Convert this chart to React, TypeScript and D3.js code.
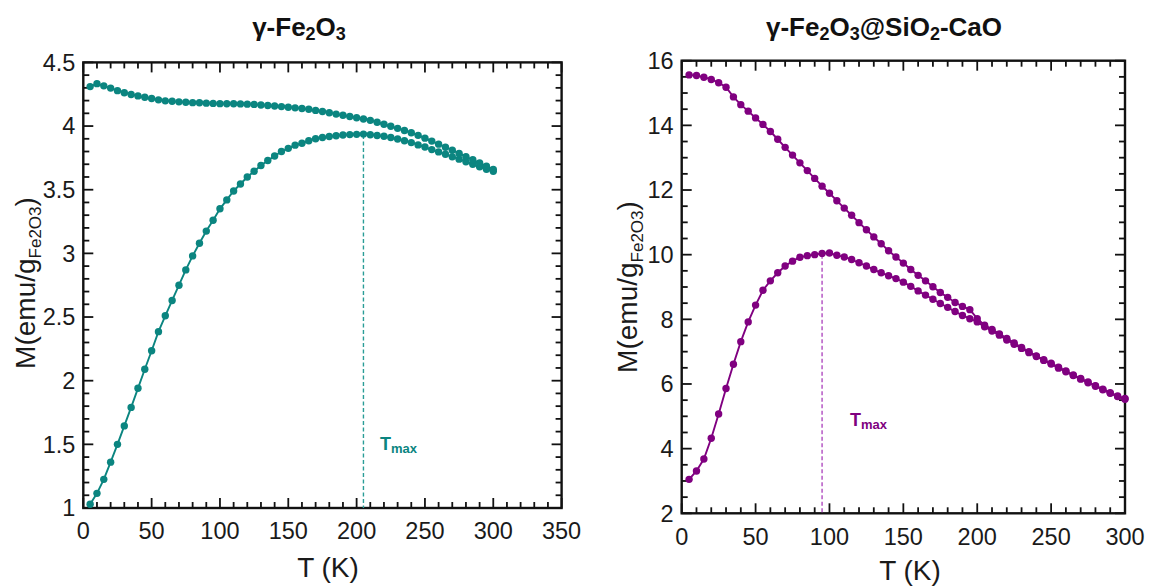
import React from 'react';
import * as d3 from 'd3';

// Temperature grid (K)
const TEMPS = [5, 10, 15, 20, 25, 30, 35, 40, 45, 50, 55, 60, 65, 70, 75, 80, 85, 90, 95, 100,
  105, 110, 115, 120, 125, 130, 135, 140, 145, 150, 155, 160, 165, 170, 175, 180, 185, 190, 195, 200,
  205, 210, 215, 220, 225, 230, 235, 240, 245, 250, 255, 260, 265, 270, 275, 280, 285, 290, 295, 300];

// γ-Fe2O3 : ZFC and FC magnetization (emu/g)
const FE_ZFC = [1.03, 1.115, 1.225, 1.36, 1.5, 1.645, 1.79, 1.94, 2.09, 2.235, 2.385, 2.51, 2.63, 2.75, 2.87, 2.98, 3.08, 3.175, 3.26, 3.35,
  3.42, 3.49, 3.545, 3.6, 3.645, 3.69, 3.73, 3.765, 3.8, 3.825, 3.85, 3.865, 3.885, 3.9, 3.91, 3.918, 3.924, 3.93, 3.933, 3.935,
  3.937, 3.932, 3.926, 3.92, 3.91, 3.898, 3.885, 3.87, 3.852, 3.835, 3.815, 3.797, 3.778, 3.758, 3.74, 3.72, 3.7, 3.68, 3.66, 3.645];
const FE_FC = [4.31, 4.333, 4.316, 4.298, 4.278, 4.262, 4.248, 4.237, 4.226, 4.216, 4.206, 4.198, 4.195, 4.19, 4.187, 4.184, 4.183, 4.18, 4.178, 4.176,
  4.175, 4.175, 4.174, 4.172, 4.17, 4.165, 4.161, 4.158, 4.153, 4.148, 4.143, 4.138, 4.132, 4.123, 4.114, 4.104, 4.094, 4.085, 4.075, 4.065,
  4.056, 4.045, 4.03, 4.014, 3.998, 3.982, 3.965, 3.947, 3.927, 3.905, 3.882, 3.858, 3.834, 3.81, 3.785, 3.76, 3.735, 3.71, 3.685, 3.66];

// γ-Fe2O3@SiO2-CaO : ZFC and FC magnetization
const SI_ZFC = [3.05, 3.31, 3.68, 4.32, 5.07, 5.86, 6.61, 7.31, 7.92, 8.44, 8.9, 9.19, 9.44, 9.65, 9.8, 9.92, 9.97, 10.0, 10.04, 10.05,
  9.98, 9.93, 9.85, 9.75, 9.65, 9.54, 9.44, 9.35, 9.26, 9.15, 9.02, 8.88, 8.75, 8.62, 8.49, 8.37, 8.24, 8.12, 8.02, 7.92,
  7.77, 7.64, 7.51, 7.36, 7.23, 7.1, 6.97, 6.85, 6.73, 6.62, 6.49, 6.38, 6.26, 6.15, 6.04, 5.93, 5.82, 5.71, 5.61, 5.53];
const SI_FC = [15.56, 15.54, 15.49, 15.42, 15.32, 15.18, 14.88, 14.64, 14.44, 14.23, 14.03, 13.81, 13.57, 13.32, 13.08, 12.84, 12.6, 12.36, 12.12, 11.9,
  11.67, 11.44, 11.22, 10.99, 10.77, 10.55, 10.34, 10.12, 9.93, 9.74, 9.54, 9.36, 9.19, 9.01, 8.83, 8.68, 8.52, 8.4, 8.3, 8.02,
  7.82, 7.69, 7.55, 7.41, 7.27, 7.13, 7.0, 6.87, 6.75, 6.64, 6.52, 6.4, 6.28, 6.17, 6.06, 5.95, 5.84, 5.73, 5.63, 5.55];

const FE_TMAX = 205;
const FE_TMAX_M = 3.93;
const SI_TMAX = 95;
const SI_TMAX_M = 10.0;

const LEFT_X_TICKS = [0, 50, 100, 150, 200, 250, 300, 350];
const LEFT_Y_TICKS = [1, 1.5, 2, 2.5, 3, 3.5, 4, 4.5];
const RIGHT_X_TICKS = [0, 50, 100, 150, 200, 250, 300];
const RIGHT_Y_TICKS = [2, 4, 6, 8, 10, 12, 14, 16];

const FONT = '"Liberation Sans", Arial, Helvetica, sans-serif';

type PanelProps = {
  x0: number; x1: number; y0: number; y1: number;
  xDomain: [number, number]; yDomain: [number, number];
  xTicks: number[]; yTicks: number[]; xMinorStep: number; yMinorStep: number;
  series: number[][]; color: string; dashColor: string;
  tmax: number; tmaxM: number; tmaxLabel: [number, number];
  titleX: number; titleParts: { t: string; sub?: boolean }[];
  xLabelX: number; xLabelY: number; yLabelX: number; yLabelY: number;
  xTickLabelY: number;
};

function Panel(p: PanelProps) {
  const xs = d3.scaleLinear().domain(p.xDomain).range([p.x0, p.x1]);
  const ys = d3.scaleLinear().domain(p.yDomain).range([p.y0, p.y1]);
  const xMinor = d3.range(p.xDomain[0], p.xDomain[1] + 1e-9, p.xMinorStep).filter(v => !p.xTicks.some(t => Math.abs(t - v) < 1e-6));
  const yMinor = d3.range(p.yDomain[0], p.yDomain[1] + 1e-9, p.yMinorStep).filter(v => !p.yTicks.some(t => Math.abs(t - v) < 1e-6));
  const MAJ = 10, MIN = 6;
  const line = d3.line<[number, number]>().x(d => xs(d[0])).y(d => ys(d[1]));
  const top = p.y1, bottom = p.y0, left = p.x0, right = p.x1;
  const tickStyle = { stroke: '#111', strokeWidth: 1.8 };
  return (
    <g>
      {/* title */}
      <text x={p.titleX} y={36} textAnchor="middle" fontFamily={FONT} fontWeight="bold" fontSize={26} fill="#111">
        {p.titleParts.map((part, i) => part.sub
          ? <tspan key={i} fontSize={18} dy={4}>{part.t}</tspan>
          : <tspan key={i} dy={i > 0 && p.titleParts[i - 1].sub ? -4 : 0}>{part.t}</tspan>)}
      </text>
      {/* ticks */}
      {p.xTicks.map(t => (
        <g key={'xt' + t}>
          <line x1={xs(t)} x2={xs(t)} y1={bottom} y2={bottom - MAJ} {...tickStyle} />
          <line x1={xs(t)} x2={xs(t)} y1={top} y2={top + MAJ} {...tickStyle} />
          <text x={xs(t)} y={p.xTickLabelY} textAnchor="middle" fontFamily={FONT} fontSize={23.5} fill="#1a1a1a">{String(t)}</text>
        </g>
      ))}
      {xMinor.map(t => (
        <g key={'xm' + t}>
          <line x1={xs(t)} x2={xs(t)} y1={bottom} y2={bottom - MIN} {...tickStyle} />
          <line x1={xs(t)} x2={xs(t)} y1={top} y2={top + MIN} {...tickStyle} />
        </g>
      ))}
      {p.yTicks.map(t => (
        <g key={'yt' + t}>
          <line x1={left} x2={left + MAJ} y1={ys(t)} y2={ys(t)} {...tickStyle} />
          <line x1={right} x2={right - MAJ} y1={ys(t)} y2={ys(t)} {...tickStyle} />
          <text x={left - 8} y={ys(t)} dy="0.35em" textAnchor="end" fontFamily={FONT} fontSize={23.5} fill="#1a1a1a">{String(t)}</text>
        </g>
      ))}
      {yMinor.map(t => (
        <g key={'ym' + t}>
          <line x1={left} x2={left + MIN} y1={ys(t)} y2={ys(t)} {...tickStyle} />
          <line x1={right} x2={right - MIN} y1={ys(t)} y2={ys(t)} {...tickStyle} />
        </g>
      ))}
      {/* frame */}
      <rect x={left} y={top} width={right - left} height={bottom - top} fill="none" stroke="#111" strokeWidth={2.4} />
      {/* Tmax dashed line */}
      <line x1={xs(p.tmax)} x2={xs(p.tmax)} y1={ys(p.tmaxM)} y2={bottom} stroke={p.dashColor} strokeWidth={1.4} strokeDasharray="4,2.5" />
      {/* series */}
      {p.series.map((vals, si) => {
        const pts: [number, number][] = TEMPS.map((t, i) => [t, vals[i]]);
        return (
          <g key={'s' + si}>
            <path d={line(pts) || ''} fill="none" stroke={p.color} strokeWidth={1.9} />
            {pts.map((d, i) => <circle key={i} cx={xs(d[0])} cy={ys(d[1])} r={3.7} fill={p.color} />)}
          </g>
        );
      })}
      {/* Tmax label */}
      <text x={p.tmaxLabel[0]} y={p.tmaxLabel[1]} fontFamily={FONT} fontWeight="bold" fontSize={18} fill={p.color}>
        T<tspan fontSize={13} dy={3}>max</tspan>
      </text>
      {/* axis labels */}
      <text x={p.xLabelX} y={p.xLabelY} textAnchor="middle" fontFamily={FONT} fontSize={28} fill="#1a1a1a">T (K)</text>
      <text transform={`translate(${p.yLabelX},${p.yLabelY}) rotate(-90)`} textAnchor="middle" fontFamily={FONT} fontSize={28} fill="#1a1a1a">
        M(emu/g<tspan fontSize={17} dy={6}>Fe2O3</tspan><tspan dy={-6}>)</tspan>
      </text>
    </g>
  );
}

export default function App() {
  return (
    <svg width={1151} height={586} style={{ position: 'absolute', left: 0, top: 0, background: '#fff' }}>
      <rect x={0} y={0} width={1151} height={586} fill="#fff" />
      <Panel
        x0={83.3} x1={561.6} y0={508} y1={62.4}
        xDomain={[0, 350]} yDomain={[1, 4.5]}
        xTicks={LEFT_X_TICKS} yTicks={LEFT_Y_TICKS} xMinorStep={10} yMinorStep={0.1}
        series={[FE_ZFC, FE_FC]} color="#0b8580" dashColor="#2a9d97"
        tmax={FE_TMAX} tmaxM={FE_TMAX_M} tmaxLabel={[380, 450]}
        titleX={299} titleParts={[{ t: 'γ-Fe' }, { t: '2', sub: true }, { t: 'O' }, { t: '3', sub: true }]}
        xLabelX={328} xLabelY={577} yLabelX={35} yLabelY={283} xTickLabelY={539}
      />
      <Panel
        x0={681.7} x1={1125} y0={513.3} y1={60.7}
        xDomain={[0, 300]} yDomain={[2, 16]}
        xTicks={RIGHT_X_TICKS} yTicks={RIGHT_Y_TICKS} xMinorStep={10} yMinorStep={0.5}
        series={[SI_ZFC, SI_FC]} color="#800080" dashColor="#b04cc0"
        tmax={SI_TMAX} tmaxM={SI_TMAX_M} tmaxLabel={[850, 426]}
        titleX={884} titleParts={[{ t: 'γ-Fe' }, { t: '2', sub: true }, { t: 'O' }, { t: '3', sub: true }, { t: '@SiO' }, { t: '2', sub: true }, { t: '-CaO' }]}
        xLabelX={910} xLabelY={580} yLabelX={637} yLabelY={287} xTickLabelY={545}
      />
    </svg>
  );
}
